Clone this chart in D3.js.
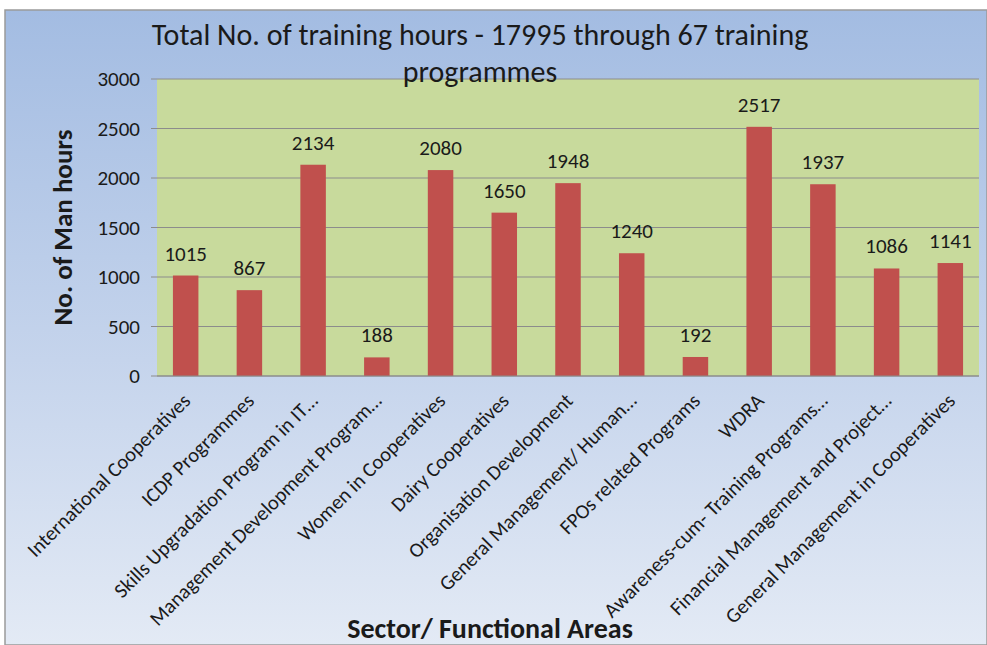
<!DOCTYPE html>
<html>
<head>
<meta charset="utf-8">
<script src="https://cdn.jsdelivr.net/npm/d3@7"></script>
<style>
  body { margin: 0; background: #fff; }
  svg text { font-family: Carlito, Calibri, "Liberation Sans", "Open Sans", sans-serif; fill: #1a1a1a; }
</style>
</head>
<body>
<div id="chart"></div>
<script>
const W = 987, H = 645;

// data
const categories = [
  "International Cooperatives",
  "ICDP Programmes",
  "Skills Upgradation Program in IT…",
  "Management Development Program…",
  "Women in Cooperatives",
  "Dairy Cooperatives",
  "Organisation Development",
  "General Management/ Human…",
  "FPOs related Programs",
  "WDRA",
  "Awareness-cum- Training Programs…",
  "Financial Management and Project…",
  "General Management in Cooperatives"
];
const hours = [1015, 867, 2134, 188, 2080, 1650, 1948, 1240, 192, 2517, 1937, 1086, 1141];
const yTicks = [0, 500, 1000, 1500, 2000, 2500, 3000];

const plot = {left: 157, right: 979, top: 79, bottom: 376};

let svg = d3.select("#chart").append("svg")
  .attr("width", W).attr("height", H);

let defs = svg.append("defs");
let grad = defs.append("linearGradient")
  .attr("id", "bg").attr("x1", 0).attr("y1", 0).attr("x2", 0).attr("y2", 1);
grad.append("stop").attr("offset", "0%").attr("stop-color", "#a3bce2");
grad.append("stop").attr("offset", "55%").attr("stop-color", "#c5d4ec");
grad.append("stop").attr("offset", "100%").attr("stop-color", "#e3eaf5");

// outer chart frame
svg.append("rect")
  .attr("x", 5).attr("y", 10)
  .attr("width", W - 5).attr("height", H - 10)
  .attr("fill", "url(#bg)")
  .attr("stroke", "#9a9a9a").attr("stroke-width", 1.5);

let x = d3.scaleBand()
  .domain(categories)
  .range([plot.left, plot.right])
  .paddingInner(0.6)
  .paddingOuter(0.25);

let y = d3.scaleLinear()
  .domain([0, 3000])
  .range([plot.bottom, plot.top]);

// plot area
svg.append("rect")
  .attr("x", plot.left).attr("y", plot.top)
  .attr("width", plot.right - plot.left).attr("height", plot.bottom - plot.top)
  .attr("fill", "#c8da9c");

// gridlines
svg.append("g")
  .selectAll("line")
  .data(yTicks)
  .join("line")
  .attr("x1", plot.left - 6).attr("x2", plot.right)
  .attr("y1", d => y(d)).attr("y2", d => y(d))
  .attr("stroke", "#8c8c8c").attr("stroke-width", 1);

// y axis
let yAxis = svg.append("g")
  .attr("transform", "translate(" + plot.left + ",0)")
  .call(d3.axisLeft(y).tickValues(yTicks).tickFormat(d3.format("d")).tickSize(0).tickPadding(17));
yAxis.select(".domain").remove();
yAxis.selectAll("text")
  .attr("font-size", 21)
  .style("font-family", "Carlito, Calibri, 'Liberation Sans', sans-serif")
  .attr("fill", "#2a2a2a");

// bars
svg.append("g")
  .selectAll("rect")
  .data(hours)
  .join("rect")
  .attr("x", (d, i) => x(categories[i]))
  .attr("y", d => y(d))
  .attr("width", x.bandwidth())
  .attr("height", d => y(0) - y(d))
  .attr("fill", "#c0504d");

// value labels
svg.append("g")
  .selectAll("text")
  .data(hours)
  .join("text")
  .attr("x", (d, i) => x(categories[i]) + x.bandwidth() / 2)
  .attr("y", d => y(d) - 15)
  .attr("text-anchor", "middle")
  .attr("font-size", 21)
  .text(d => d);

// x axis line
svg.append("line")
  .attr("x1", plot.left).attr("x2", plot.right)
  .attr("y1", plot.bottom).attr("y2", plot.bottom)
  .attr("stroke", "#8c8c8c");

// x category labels
svg.append("g")
  .selectAll("text")
  .data(categories)
  .join("text")
  .attr("transform", d => "translate(" + (x(d) + x.bandwidth() / 2 + 6) + "," + (plot.bottom + 26) + ") rotate(-45)")
  .attr("text-anchor", "end")
  .attr("font-size", 20.5)
  .text(d => d);

// titles
let title = svg.append("text")
  .attr("x", 480).attr("y", 45)
  .attr("text-anchor", "middle")
  .attr("font-size", 30);
title.append("tspan").attr("x", 480).text("Total No. of training hours - 17995 through 67 training");
title.append("tspan").attr("x", 480).attr("dy", 37).text("programmes");

svg.append("text")
  .attr("transform", "translate(72," + ((plot.top + plot.bottom) / 2) + ") rotate(-90)")
  .attr("text-anchor", "middle")
  .attr("font-size", 27).attr("font-weight", "bold")
  .text("No. of Man hours");

svg.append("text")
  .attr("x", 490).attr("y", 638)
  .attr("text-anchor", "middle")
  .attr("font-size", 28).attr("font-weight", "bold")
  .text("Sector/ Functional Areas");
</script>
</body>
</html>
